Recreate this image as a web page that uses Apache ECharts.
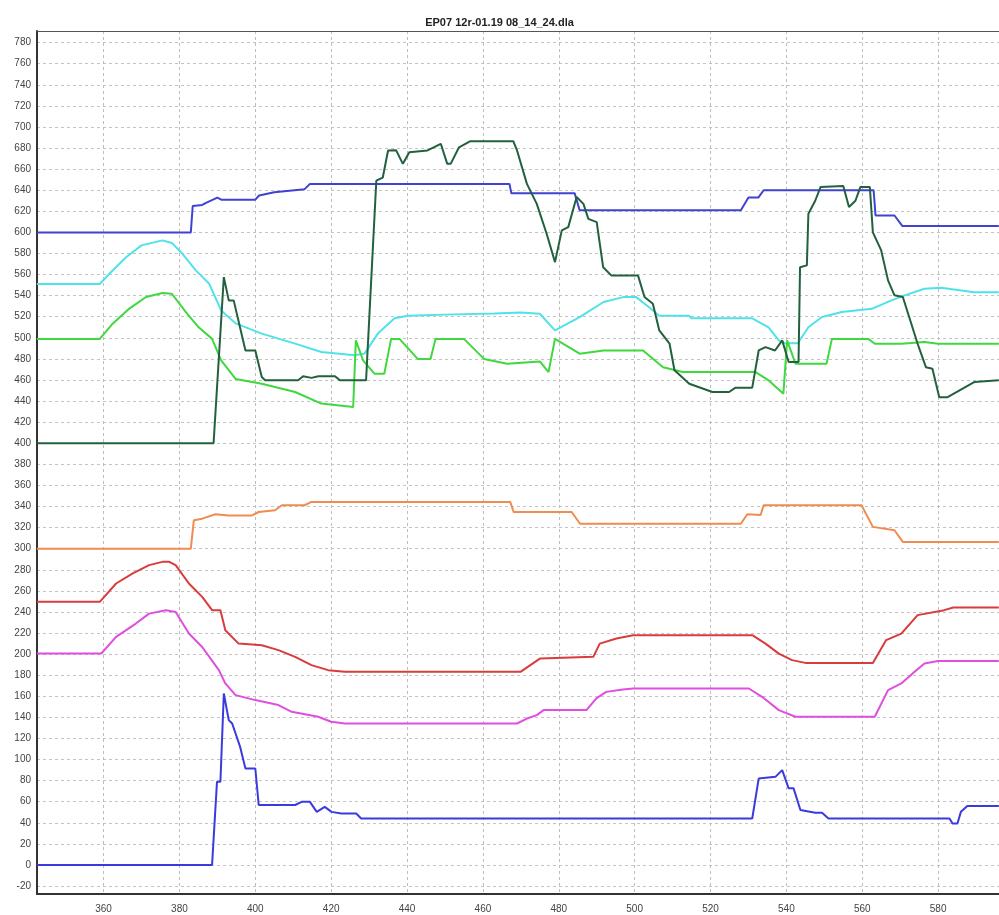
<!DOCTYPE html>
<html>
<head>
<meta charset="utf-8">
<script src="https://cdn.jsdelivr.net/npm/echarts@6/dist/echarts.min.js"></script>
<style>html,body{margin:0;padding:0;background:#fff;overflow:hidden;}#c{width:999px;height:915px;}</style>
</head>
<body>
<div id="c"></div>
<script>
var titleText = 'EP07 12r-01.19 08_14_24.dla';
var xTicks = [360,380,400,420,440,460,480,500,520,540,560,580];
var yTicks = [-20,0,20,40,60,80,100,120,140,160,180,200,220,240,260,280,300,320,340,360,380,400,420,440,460,480,500,520,540,560,580,600,620,640,660,680,700,720,740,760,780];

var blueTop = [[342.4,600],[383,600],[383.5,625],[386,626],[387,628],[390,633],[391,631],[400,631],[401,635],[405,638],[413,641],[414.4,646],[467,646],[467.5,637],[484.2,637],[485.5,621],[528,621],[530,633],[532.6,633],[534,640],[563,640],[563.5,616],[568.5,616],[570.6,606],[596,606]];
var cyan = [[342.4,551],[359,551],[361.6,561],[366,576.6],[370,587.7],[375.5,592.4],[378,590],[380.7,580],[384.3,564],[387.8,551.6],[391,526],[394.8,513.7],[401.7,504],[410.5,494.5],[417.4,486.5],[426.2,483.4],[428.8,485],[432.3,504],[436.7,518.5],[440.2,521],[450,522],[463,523],[470,524],[475,522.8],[479,507],[485.5,519.7],[491.8,534],[497,538.6],[500.4,538.6],[503.8,529],[506.5,521],[514.3,521],[515,518.5],[531,518.5],[535.3,510],[538,497.6],[539.7,494.8],[543,494.8],[545.8,510],[549.4,519.7],[554.6,524.4],[562.5,527.5],[567.7,535.5],[571,540],[576.4,546.6],[580.8,547.5],[589.5,543.3],[596,543.3]];
var green = [[342.4,499],[359,499],[362.4,513.4],[366.8,527.7],[371.2,538.7],[375.5,542.5],[378,541.8],[381.7,524.4],[385,510.2],[388.6,499],[391,478.7],[394.8,461],[401.7,456.5],[410.5,448.6],[417.4,437.6],[425.8,434.4],[426.5,497.6],[428.4,478.7],[431.4,466],[434,466],[435.8,499],[438,499],[442.8,480],[446.2,480],[447.5,499],[455,499],[460.3,480],[466.4,475.5],[475,477.6],[477.3,467.5],[479,499],[485.5,485],[491.8,488],[502.2,488],[507.5,472],[512.7,467.5],[531.9,467.5],[535.3,459.7],[539.2,447],[539.7,447],[540.2,497.6],[542.4,475.5],[550.6,475.5],[552,499],[561.6,499],[563.3,494.4],[570.3,494.4],[576.4,496],[580,494.4],[596,494.4]];
var darkGreen = [[342.4,400],[389,400],[391.7,557.6],[393,535.5],[394.3,535.5],[397.4,488],[400,488],[401.7,462.8],[402.6,459.7],[411.3,459.7],[412.6,463.5],[414.8,462],[416.6,463.5],[421,463.5],[422.3,459.7],[429.2,459.7],[431.9,649],[433.6,652],[435,677.7],[437.1,678],[438.9,665],[440.6,676],[445.4,677.7],[448.9,684],[450.6,665],[451.5,665],[453.7,680.7],[456.7,686.5],[468,686.5],[469,677.7],[471.6,646],[474.2,627],[476.8,598.7],[479,571.8],[480.8,601.9],[482.5,605],[484.7,633.5],[486.5,627],[487.8,612.8],[490,609.7],[491.7,567],[493.9,559],[500.9,559],[502.6,538.7],[504.8,532.4],[506.5,507],[509.2,494.4],[510.5,469.2],[514.4,456.5],[520.5,448.6],[524.9,448.6],[526.6,452.7],[531,452.7],[532.7,488],[534.5,491.2],[537,488],[538.9,497.6],[540.6,477],[543.2,477],[543.6,567],[545.4,568.7],[545.8,617.6],[547.6,630],[549,643],[555,644],[556.5,624],[558.2,630],[559.5,643],[562,643],[562.8,600],[565,582.9],[566.8,554.5],[568.5,540.3],[570.7,538.7],[574.6,494.4],[576.8,472],[578.5,470.6],[580.3,443.7],[582.5,443.7],[589.5,458],[596,459.7]];
var orange = [[342.4,300],[383,300],[383.8,327],[386,328.5],[389.5,332.7],[393,331.5],[399.1,331.5],[400.9,334.8],[405.2,336.5],[407,341.2],[413,341.2],[414.8,344.4],[467.2,344.4],[468.1,334.8],[483.4,334.8],[485.6,323.7],[528,323.7],[529.7,332.7],[533.2,332],[534,341.2],[559.8,341.2],[562.8,320.7],[568.5,317.5],[570.7,306.4],[596,306.4]];
var red = [[342.4,249.6],[359,249.6],[363.3,267],[367.7,276.5],[372,284.4],[375.5,287.5],[377.3,287.5],[379,284.4],[382.5,267],[386,254.3],[388.6,241.7],[390.8,241.7],[392.1,222.7],[395.6,210],[401.7,208.5],[406.1,203.8],[410.5,197.4],[414.8,189.6],[419.2,184.8],[423.6,183.2],[469.9,183.2],[472.5,189.6],[475.1,195.9],[489.1,197.4],[490.8,210],[495.2,214.8],[499.6,218],[531,218],[534.5,210],[538,200.5],[541.5,194.3],[545,191.7],[562.8,191.7],[566.3,213.3],[570.3,219.5],[574.6,237],[581.6,241.7],[584,244.2],[596,244.2]];
var magenta = [[342.4,200.6],[359.4,200.6],[363.3,216.4],[368.5,229],[372,238.4],[376.4,241.7],[379,240],[382.5,219.5],[386,206.8],[390.4,184.8],[392.1,172.2],[394.8,161.1],[400,156.4],[406.1,151.7],[409.6,145.3],[416.6,140.6],[420,135.9],[423.6,134.2],[469,134.2],[471.6,138.9],[474.2,142.2],[476,146.9],[487.3,146.9],[489.9,158],[492.5,164.2],[496.9,166.5],[499.6,167.4],[530.1,167.4],[533.6,159.5],[538,146.9],[542.4,140.6],[563.3,140.6],[566.8,165.9],[570.3,172.2],[573.8,183.2],[576.4,191.1],[580,193.4],[596,193.4]];
var blueBottom = [[342.4,0],[388.6,0],[389.9,79],[390.8,79],[391.7,162.7],[393,137.4],[393.9,134.2],[396,112],[397.4,91.5],[400,91.5],[400.9,56.9],[410.5,56.9],[412.2,59.9],[414.4,59.9],[416.2,50.4],[418.3,55.1],[420.1,50.4],[422.7,48.9],[426.6,48.9],[427.9,44.1],[531,44.1],[532.7,82],[537.1,83.6],[538.9,90],[540.6,72.7],[541.9,72.7],[543.7,52.1],[547.6,49.5],[549.4,49.5],[551.1,44.1],[583,44.1],[583.8,39.4],[585.1,39.4],[586,50.4],[587.7,55.9],[596,55.9]];

var seriesDefs = [
  {name:'blueTop', data: blueTop, color:'#4141d2'},
  {name:'cyan', data: cyan, color:'#4fe2e8'},
  {name:'green', data: green, color:'#3fd83f'},
  {name:'orange', data: orange, color:'#f08c52'},
  {name:'red', data: red, color:'#d83c3c'},
  {name:'magenta', data: magenta, color:'#e04ee0'},
  {name:'blueBottom', data: blueBottom, color:'#3a3ade'},
  {name:'darkGreen', data: darkGreen, color:'#22603e'}
];

var chart = echarts.init(document.getElementById('c'), null, {renderer:'canvas'});
var labelFont = {fontFamily:'Liberation Sans, Arial, sans-serif', fontSize:10, color:'#444'};
chart.setOption({
  animation:false,
  backgroundColor:'#ffffff',
  title:{text:titleText, left:'center', top:12, textStyle:{fontFamily:'Liberation Sans, Arial, sans-serif', fontSize:11, fontWeight:'bold', color:'#222'}},
  grid:{left:37, top:31, right:-6, bottom:21, show:false},
  xAxis:[{type:'value', min:342.45, max:596.05, position:'bottom',
    axisLine:{show:true, onZero:false, lineStyle:{color:'#333', width:2}},
    axisTick:{show:false, customValues:xTicks},
    axisLabel:Object.assign({customValues:xTicks, margin:10}, labelFont),
    splitLine:{show:true, lineStyle:{color:'#bdbdbd', width:1, type:[3,3]}}
  },{type:'value', min:342.45, max:596.05, position:'top',
    axisLine:{show:true, onZero:false, lineStyle:{color:'#555', width:1}},
    axisTick:{show:false}, axisLabel:{show:false}, splitLine:{show:false}
  }],
  yAxis:{type:'value', min:-27.5, max:791,
    axisLine:{show:true, onZero:false, lineStyle:{color:'#333', width:2}},
    axisTick:{show:false, customValues:yTicks},
    axisLabel:Object.assign({customValues:yTicks, margin:6}, labelFont),
    splitLine:{show:true, lineStyle:{color:'#c4c4c4', width:1, type:[3,3]}}
  },
  series: seriesDefs.map(function(s){
    return {name:s.name, type:'line', data:s.data, showSymbol:false, symbol:'none',
      lineStyle:{color:s.color, width:2}, itemStyle:{color:s.color}};
  })
});
</script>
</body>
</html>
